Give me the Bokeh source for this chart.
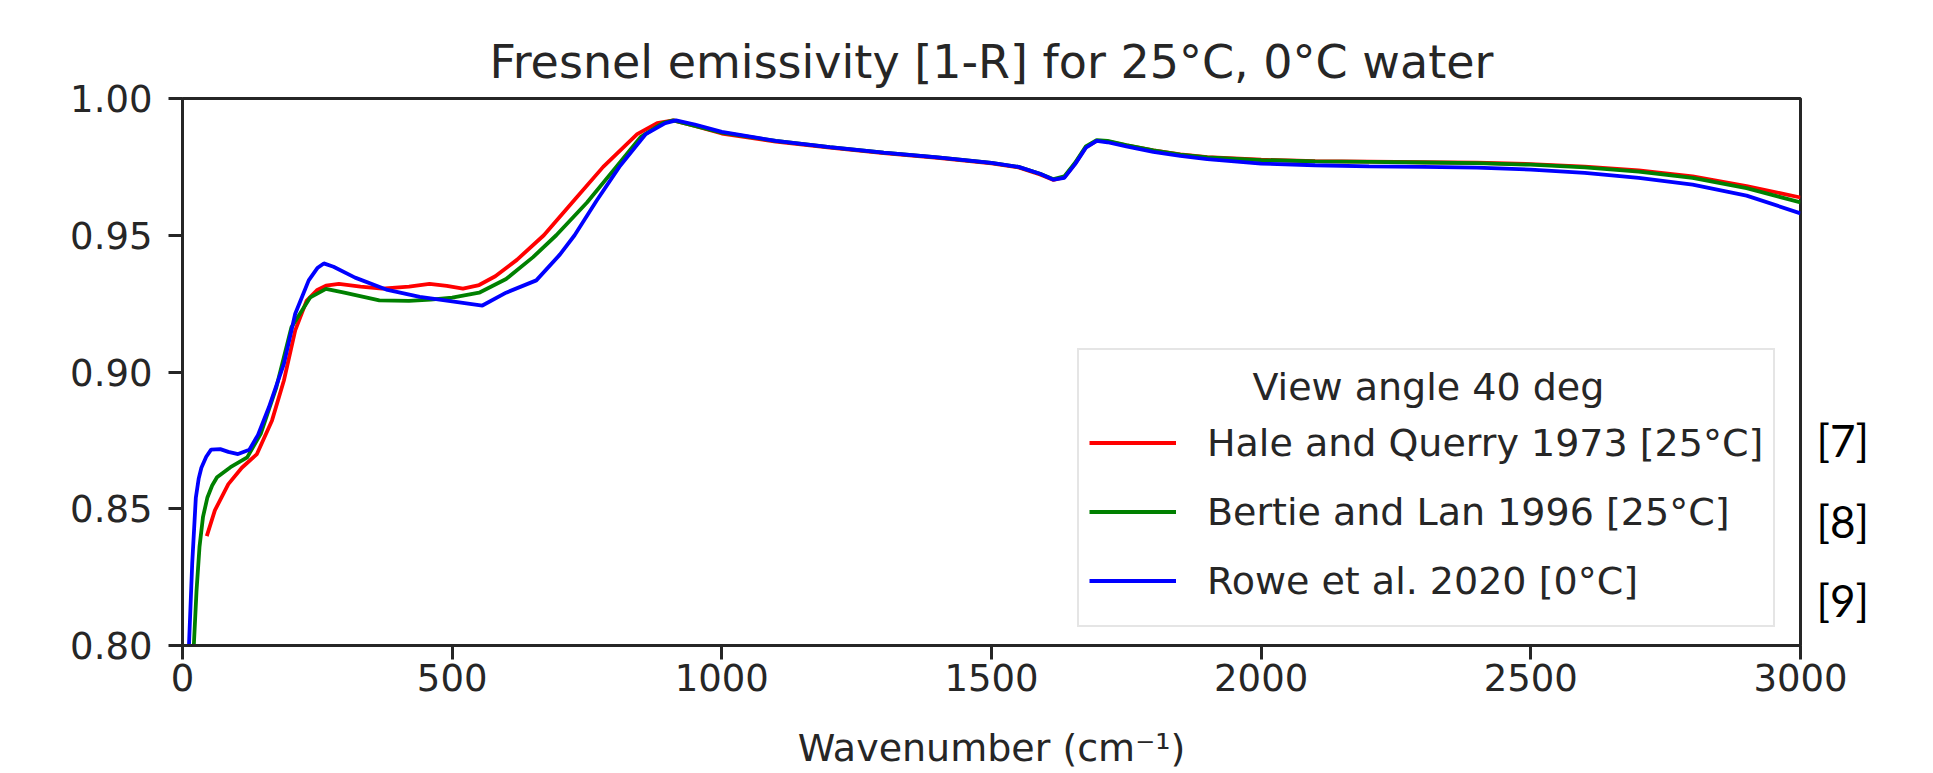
from bokeh.plotting import figure
from bokeh.models import (Range1d, FixedTicker, PrintfTickFormatter, Label, Legend,
                          LegendItem, LinearAxis)
from bokeh.embed import file_html
from bokeh.resources import INLINE

# ---------------- data ----------------
hq_wn = [45, 60, 85, 110, 138, 166, 188, 209, 230, 250, 266, 290, 330, 370, 420, 458, 490, 520,
         550, 580, 620, 670, 727, 780, 843, 880, 910,
         950, 1000, 1100, 1200, 1300, 1400, 1500, 1550, 1590, 1615, 1635, 1655, 1675, 1695, 1715,
         1750, 1800, 1850, 1900, 2000, 2100, 2200, 2300, 2400, 2500, 2600, 2700, 2800, 2900, 3000]
hq_em = [0.840, 0.8494, 0.859, 0.865, 0.870, 0.8823, 0.8969, 0.9152, 0.926, 0.930, 0.9316, 0.9322,
         0.9312, 0.9305, 0.9312, 0.9322, 0.9315, 0.9305, 0.9318, 0.935, 0.941, 0.950, 0.963, 0.975,
         0.987, 0.991, 0.992,
         0.9900, 0.9872, 0.9842, 0.9820, 0.9800, 0.9783, 0.9763, 0.9748, 0.9722, 0.9702, 0.9712,
         0.9762, 0.9822, 0.9845, 0.9843, 0.9829, 0.9810, 0.9796, 0.9786, 0.9776, 0.9771, 0.9769,
         0.9767, 0.9765, 0.9760, 0.9751, 0.9737, 0.9715, 0.9680, 0.9638]

bl_wn = [21, 26, 31.5, 38, 46, 55, 64, 89, 120, 145, 174, 202, 237, 266, 300, 365, 420, 460, 500,
         550, 600, 650, 693, 750, 800, 850, 890, 910,
         950, 1000, 1100, 1200, 1300, 1400, 1500, 1550, 1590, 1615, 1635, 1655, 1675, 1695, 1715,
         1750, 1800, 1850, 1900, 2000, 2100, 2200, 2300, 2400, 2500, 2600, 2700, 2800, 2900, 3000]
bl_em = [0.800, 0.820, 0.836, 0.847, 0.854, 0.8585, 0.8615, 0.8652, 0.8688, 0.8774, 0.8944, 0.9164,
         0.9273, 0.9304, 0.9290, 0.9262, 0.9260, 0.9265, 0.9272, 0.929, 0.934, 0.942, 0.950, 0.962,
         0.974, 0.986, 0.991, 0.992,
         0.9900, 0.9875, 0.9845, 0.9822, 0.9802, 0.9785, 0.9765, 0.9750, 0.9725, 0.9705, 0.9715,
         0.9765, 0.9825, 0.9848, 0.9845, 0.9830, 0.9810, 0.9795, 0.9785, 0.9775, 0.9770, 0.9768,
         0.9766, 0.9764, 0.9758, 0.9748, 0.9733, 0.9710, 0.9672, 0.9620]

rw_wn = [12, 18, 24.7, 30, 35, 44, 53, 70, 85, 103, 124, 140, 160, 188, 209, 234, 250, 262, 280,
         320, 380, 440, 500, 556, 600, 656, 700, 727, 768, 810, 859, 895, 915,
         950, 1000, 1100, 1200, 1300, 1400, 1500, 1550, 1590, 1615, 1635, 1655, 1675, 1695, 1715,
         1750, 1800, 1850, 1900, 2000, 2100, 2200, 2300, 2400, 2500, 2600, 2700, 2800, 2900, 3000]
rw_em = [0.800, 0.830, 0.854, 0.861, 0.865, 0.869, 0.8716, 0.8718, 0.8708, 0.870, 0.8716, 0.877,
         0.887, 0.903, 0.9213, 0.9335, 0.938, 0.9397, 0.9385, 0.9345, 0.9300, 0.9275, 0.9258,
         0.9243, 0.929, 0.9335, 0.943, 0.950, 0.9627, 0.975, 0.987, 0.991, 0.992,
         0.9905, 0.9878, 0.9845, 0.9822, 0.9802, 0.9785, 0.9765, 0.9750, 0.9725, 0.9703, 0.9710,
         0.9760, 0.9820, 0.9845, 0.9840, 0.9825, 0.9805, 0.9790, 0.9778, 0.9762, 0.9756, 0.9752,
         0.9750, 0.9747, 0.9740, 0.9728, 0.9710, 0.9685, 0.9645, 0.9580]

series_labels = ["Hale and Querry 1973 [25\u00b0C]",
                 "Bertie and Lan 1996 [25\u00b0C]",
                 "Rowe et al. 2020 [0\u00b0C]"]
series_colors = ["#ff0000", "#008000", "#0000ff"]
ref_labels = ["[7]", "[8]", "[9]"]
ref_label_pos = [0.8753, 0.8457, 0.8166]   # vertical position of each reference number
x_ticks = [0, 500, 1000, 1500, 2000, 2500, 3000]
y_ticks = [0.80, 0.85, 0.90, 0.95, 1.00]

title_text = "Fresnel emissivity [1-R] for 25\u00b0C, 0\u00b0C water"
legend_title = "View angle 40 deg"
x_label = "Wavenumber (cm\u207b\u00b9)"

FONT = "DejaVu Sans"
DARK = "#262626"

# ---------------- figure ----------------
p = figure(frame_width=1618, frame_height=547,
           x_range=Range1d(0, 3000), y_range=Range1d(0.8, 1.0),
           output_backend="svg", toolbar_location=None,
           min_border_left=182, min_border_right=125,
           min_border_top=98, min_border_bottom=128)
p.xgrid.visible = False
p.ygrid.visible = False
p.outline_line_color = DARK
p.outline_line_width = 3
p.background_fill_color = "white"
p.border_fill_color = "white"

p.title.text = title_text
p.title.align = "center"
p.title.text_font = FONT
p.title.text_font_size = "46px"
p.title.text_font_style = "normal"
p.title.text_color = DARK
p.title.standoff = 20

for ax in (p.xaxis[0], p.yaxis[0]):
    ax.axis_line_color = DARK
    ax.axis_line_width = 3
    ax.major_tick_line_color = DARK
    ax.major_tick_line_width = 3
    ax.major_tick_out = 14
    ax.major_tick_in = 0
    ax.minor_tick_line_color = None
    ax.major_label_text_font = FONT
    ax.major_label_text_font_size = "37px"
    ax.major_label_text_color = DARK

p.xaxis.ticker = FixedTicker(ticks=x_ticks)
p.yaxis.ticker = FixedTicker(ticks=y_ticks)
p.yaxis.formatter = PrintfTickFormatter(format="%.2f")
p.xaxis.major_label_standoff = 4
p.yaxis.major_label_standoff = 16
p.xaxis.axis_label = x_label
p.xaxis.axis_label_text_font = FONT
p.xaxis.axis_label_text_font_size = "38px"
p.xaxis.axis_label_text_font_style = "normal"
p.xaxis.axis_label_text_color = DARK
p.xaxis.axis_label_standoff = 32

# reference numbers on the right, as an unlined axis
ref_axis = LinearAxis(ticker=FixedTicker(ticks=ref_label_pos),
                      major_label_overrides={v: t for v, t in zip(ref_label_pos, ref_labels)},
                      axis_line_color=None, major_tick_line_color=None,
                      minor_tick_line_color=None, major_tick_out=0, major_tick_in=0,
                      major_label_standoff=16,
                      major_label_text_font="Lato", major_label_text_font_size="44px",
                      major_label_text_color="black")
p.add_layout(ref_axis, "right")

renderers = []
for xs, ys, c in ((hq_wn, hq_em, series_colors[0]),
                  (bl_wn, bl_em, series_colors[1]),
                  (rw_wn, rw_em, series_colors[2])):
    r = p.line(xs, ys, line_color=c, line_width=3.8)
    renderers.append(r)

legend = Legend(items=[LegendItem(label=series_labels[i], renderers=[renderers[i]]) for i in range(3)],
                location=(895, 18),
                title="\u00a0",
                title_text_font=FONT, title_text_font_size="38px",
                title_standoff=4,
                label_text_font=FONT, label_text_font_size="38px",
                label_text_color=DARK,
                label_standoff=31,
                glyph_width=87, glyph_height=69, label_height=69,
                spacing=0, padding=10, margin=0,
                border_line_color="#cccccc", border_line_width=2.5,
                background_fill_color="white", background_fill_alpha=0.0)
p.add_layout(legend)

# legend title, centred in the legend box
p.add_layout(Label(x=2310, y=0.8944, text=legend_title, text_align="center",
                   text_baseline="middle", text_font=FONT, text_font_size="38px",
                   text_color=DARK))

open("out.html", "w").write(file_html(p, INLINE))
